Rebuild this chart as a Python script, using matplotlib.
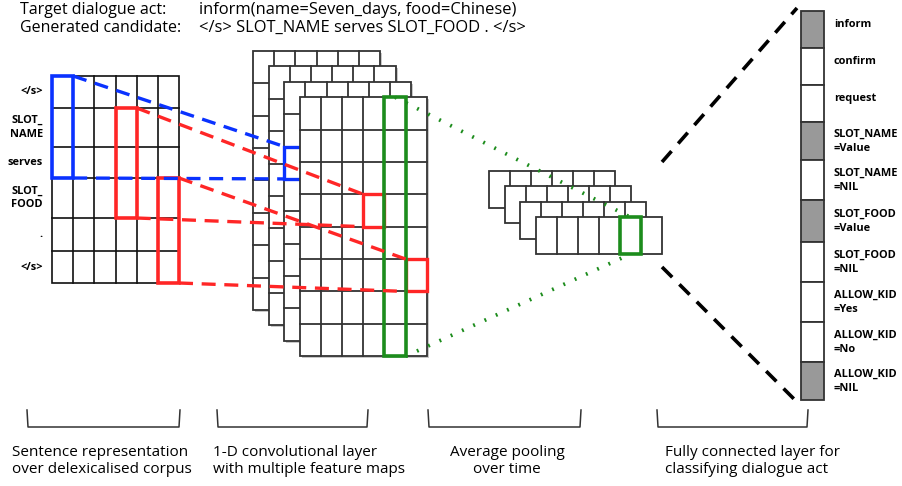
import numpy as np
import matplotlib.pyplot as plt
from matplotlib.patches import Rectangle

plt.rcParams['font.family'] = ['Open Sans', 'DejaVu Sans']

# ---- data ----
dialogue_act = "inform(name=Seven_days, food=Chinese)"
candidate = "</s> SLOT_NAME serves SLOT_FOOD . </s>"
tokens = ["</s>", "SLOT_\nNAME", "serves", "SLOT_\nFOOD", ".", "</s>"]
token_rows = [76, 108, 147, 178, 218, 251, 283]  # row edges of sentence matrix
act_labels = ["inform", "confirm", "request", "SLOT_NAME\n=Value", "SLOT_NAME\n=NIL",
              "SLOT_FOOD\n=Value", "SLOT_FOOD\n=NIL", "ALLOW_KID\n=Yes", "ALLOW_KID\n=No",
              "ALLOW_KID\n=NIL"]
act_on = [1, 0, 0, 1, 0, 1, 0, 0, 0, 1]
act_rows = [11, 48, 85, 122, 160, 200, 242, 282, 322, 362, 400]
captions = ["Sentence representation\nover delexicalised corpus",
            "1-D convolutional layer\nwith multiple feature maps",
            "Average pooling\nover time",
            "Fully connected layer for\nclassifying dialogue act"]

BLUE = '#0a32ff'
RED = '#ff2626'
GREEN = '#1c8c1c'

fig = plt.figure(figsize=(9.02, 4.86), dpi=100)
ax = fig.add_axes([0, 0, 1, 1])
ax.set_xlim(0, 902)
ax.set_ylim(486, 0)
ax.axis('off')


def grid(x0, y0, w, h, ncol, nrow, z, lc='#222222', lw=1.2, shadow=False, rows=None):
    if shadow:
        ax.add_patch(Rectangle((x0 + 2, y0 + 2), w, h, fc='#c8c8c8', ec='none', zorder=z))
    ax.add_patch(Rectangle((x0, y0), w, h, fc='white', ec=lc, lw=lw, zorder=z + 0.1))
    for c in range(1, ncol):
        xx = x0 + w * c / ncol
        ax.plot([xx, xx], [y0, y0 + h], color=lc, lw=lw, zorder=z + 0.2)
    ys = rows if rows is not None else [y0 + h * r / nrow for r in range(1, nrow)]
    for yy in ys:
        ax.plot([x0, x0 + w], [yy, yy], color=lc, lw=lw, zorder=z + 0.2)


# ---- header ----
fs = 11.5
ax.text(20, 10, "Target dialogue act:", fontsize=fs, va='center')
ax.text(20, 28, "Generated candidate:", fontsize=fs, va='center')
ax.text(199, 10, dialogue_act, fontsize=fs + 0.4, va='center')
ax.text(199, 28, candidate, fontsize=fs + 0.4, va='center')

# ---- sentence matrix ----
sx0, sx1 = 52, 179
ncol = 6
cw = (sx1 - sx0) / ncol
grid(sx0, token_rows[0], sx1 - sx0, token_rows[-1] - token_rows[0], ncol, 0, 1,
     lc='#111111', lw=1.2, rows=token_rows[1:-1])
for i, t in enumerate(tokens):
    yc = (token_rows[i] + token_rows[i + 1]) / 2
    ax.text(43, yc, t, fontsize=7.9, fontweight='bold', ha='right', va='center',
            multialignment='right', linespacing=1.35)

ax.add_patch(Rectangle((sx0, token_rows[0]), cw, token_rows[3] - token_rows[0],
                       fc='none', ec=BLUE, lw=2.6, zorder=5))
ax.add_patch(Rectangle((sx0 + 3 * cw, token_rows[1]), cw, token_rows[4] - token_rows[1],
                       fc='none', ec=RED, lw=2.6, zorder=5))
ax.add_patch(Rectangle((sx0 + 5 * cw, token_rows[3]), cw, token_rows[6] - token_rows[3],
                       fc='none', ec=RED, lw=2.6, zorder=5))

# ---- convolutional feature maps ----
cx0, cy0, cwid, chgt = 253, 51, 127, 259
dx, dy = 15.6, 15.4
for k in range(4):
    grid(cx0 + k * dx, cy0 + k * dy, cwid, chgt, 6, 8, 10 + k, lc='#333333', lw=1.3, shadow=True)
fx0, fy0 = cx0 + 3 * dx, cy0 + 3 * dy
fcw, frh = cwid / 6, chgt / 8
# blue window sits on the third map (behind the front one)
ax.add_patch(Rectangle((cx0 + 2 * dx, cy0 + 2 * dy + 2 * frh), fcw, frh,
                       fc='none', ec=BLUE, lw=2.4, zorder=12.5))
ax.add_patch(Rectangle((fx0 + 3 * fcw, fy0 + 3 * frh), fcw, frh, fc='none', ec=RED, lw=2.4, zorder=14))
ax.add_patch(Rectangle((fx0 + 5 * fcw, fy0 + 5 * frh), fcw, frh, fc='none', ec=RED, lw=2.4, zorder=14))
ax.add_patch(Rectangle((fx0 + 4 * fcw, fy0), fcw, chgt, fc='none', ec=GREEN, lw=2.6, zorder=14))

# ---- pooled maps ----
px0, py0, pw, ph = 489, 171, 126, 37
for k in range(4):
    grid(px0 + k * dx, py0 + k * dy, pw, ph, 6, 1, 20 + k, lc='#333333', lw=1.3)
pfx, pfy = px0 + 3 * dx, py0 + 3 * dy
ax.add_patch(Rectangle((pfx + 4 * pw / 6, pfy), pw / 6, ph, fc='none', ec=GREEN, lw=2.6, zorder=24))

# ---- connecting lines ----
dash = dict(lw=2.4, dashes=(4.2, 2.6), zorder=16)
b_top = (sx0 + cw, token_rows[0])
b_bot = (sx0 + cw, token_rows[3])
bx = cx0 + 2 * dx
ax.plot([b_top[0], bx], [b_top[1], cy0 + 2 * dy + 2 * frh], color=BLUE, **dash)
ax.plot([b_bot[0], bx], [b_bot[1], cy0 + 2 * dy + 3 * frh], color=BLUE, **dash)
r1x = fx0 + 3 * fcw
ax.plot([sx0 + 4 * cw, r1x], [token_rows[1], fy0 + 3 * frh], color=RED, **dash)
ax.plot([sx0 + 4 * cw, r1x], [token_rows[4], fy0 + 4 * frh], color=RED, **dash)
r2x = fx0 + 5 * fcw
ax.plot([sx1, r2x], [token_rows[3], fy0 + 5 * frh], color=RED, **dash)
ax.plot([sx1, r2x], [token_rows[6], fy0 + 6 * frh], color=RED, **dash)

dot = dict(color=GREEN, lw=2.7, dashes=(0.5, 2.8), zorder=25)
ax.plot([fx0 + 4.5 * fcw, pfx + 4.5 * pw / 6], [fy0, pfy], **dot)
ax.plot([fx0 + 5 * fcw, pfx + 4.5 * pw / 6], [fy0 + chgt, pfy + ph], **dot)

# ---- fully connected output ----
ox0, ox1 = 801, 824
for i, lab in enumerate(act_labels):
    y0, y1 = act_rows[i], act_rows[i + 1]
    ax.add_patch(Rectangle((ox0, y0), ox1 - ox0, y1 - y0,
                           fc='#999999' if act_on[i] else 'white', ec='#333333', lw=1.3, zorder=30))
    yc = (y0 + y1) / 2
    if '\n' not in lab:
        yc -= 5
    ax.text(834, yc, lab, fontsize=7.9, fontweight='bold', ha='left', va='center', linespacing=1.4)

kdash = dict(color='black', lw=2.6, dashes=(4, 2.8), zorder=26)
ax.plot([662, 797], [162, 8], **kdash)
ax.plot([662, 797], [267, 402], **kdash)

# ---- brackets and captions ----
brackets = [(27, 180), (217, 368), (428, 581), (657, 808)]
for (a, b) in brackets:
    ax.plot([a, a + 1, b - 1, b], [410, 427, 427, 410], color='#333333', lw=1.1)
cfs = 11
ax.text(12, 461, captions[0], fontsize=cfs, ha='left', va='center', linespacing=1.2)
ax.text(213, 461, captions[1], fontsize=cfs, ha='left', va='center', linespacing=1.2)
ax.text(507, 461, captions[2], fontsize=cfs, ha='center', va='center', linespacing=1.2)
ax.text(665, 461, captions[3], fontsize=cfs, ha='left', va='center', linespacing=1.2)

fig.savefig('out.png', dpi=100)
